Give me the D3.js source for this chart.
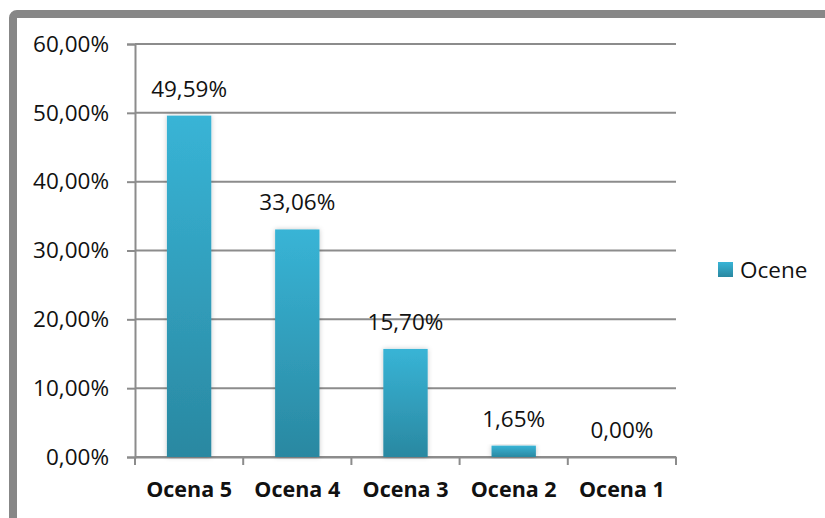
<!DOCTYPE html>
<html>
<head>
<meta charset="utf-8">
<script src="https://cdnjs.cloudflare.com/ajax/libs/d3/7.8.5/d3.min.js"></script>
<style>
  html, body { margin: 0; padding: 0; background: #fff; }
  svg { display: block; font-family: "Open Sans", "Noto Sans", sans-serif; }
</style>
</head>
<body>
<svg id="svg" width="825" height="518"></svg>
<script>
// chart data
const categories = ["Ocena 5", "Ocena 4", "Ocena 3", "Ocena 2", "Ocena 1"];
const values = [49.59, 33.06, 15.70, 1.65, 0.00];
const yTicks = [0, 10, 20, 30, 40, 50, 60];
const seriesName = "Ocene";

const fmt = v => v.toFixed(2).replace(".", ",") + "%";

const svg = d3.select("#svg");
const W = 825, H = 518;
const plot = { left: 135, right: 676, top: 44, bottom: 457 };

// outer frame (cut by the window on the right and bottom)
svg.append("rect")
  .attr("x", 13).attr("y", 14)
  .attr("width", W + 20).attr("height", H + 20)
  .attr("rx", 4)
  .attr("fill", "#fff")
  .attr("stroke", "#878787")
  .attr("stroke-width", 8);

const defs = svg.append("defs");
const grad = defs.append("linearGradient")
  .attr("id", "barGrad")
  .attr("x1", 0).attr("y1", 0).attr("x2", 0).attr("y2", 1);
grad.append("stop").attr("offset", "0%").attr("stop-color", "#38b4d6");
grad.append("stop").attr("offset", "100%").attr("stop-color", "#2a88a1");

const shadow = defs.append("filter").attr("id", "barShadow")
  .attr("x", "-30%").attr("y", "-10%").attr("width", "160%").attr("height", "120%");
shadow.append("feDropShadow")
  .attr("dx", 0).attr("dy", 0).attr("stdDeviation", 2.5)
  .attr("flood-color", "#000").attr("flood-opacity", 0.22);

const x = d3.scaleBand().domain(categories).range([plot.left, plot.right]).paddingInner(0).paddingOuter(0);
const y = d3.scaleLinear().domain([0, 60]).range([plot.bottom, plot.top]);

// gridlines
svg.append("g")
  .selectAll("line")
  .data(yTicks)
  .join("line")
  .attr("x1", plot.left).attr("x2", plot.right)
  .attr("y1", d => y(d)).attr("y2", d => y(d))
  .attr("stroke", "#8c8c8c")
  .attr("stroke-width", 2);

// y axis
const yAxis = svg.append("g")
  .attr("transform", `translate(${plot.left},0)`)
  .call(d3.axisLeft(y).tickValues(yTicks).tickFormat(fmt).tickSize(8).tickPadding(18));
yAxis.select(".domain").attr("stroke", "#8c8c8c").attr("stroke-width", 2);
yAxis.selectAll(".tick line").attr("stroke", "#8c8c8c").attr("stroke-width", 2);
yAxis.selectAll(".tick text")
  .attr("font-size", 22.5).attr("fill", "#111").attr("font-family", "Open Sans, sans-serif");

// x axis
const xAxis = svg.append("g")
  .attr("transform", `translate(0,${plot.bottom})`)
  .call(d3.axisBottom(x).tickSize(0).tickPadding(25));
xAxis.select(".domain").attr("stroke", "#8c8c8c").attr("stroke-width", 2);
xAxis.selectAll(".tick text")
  .attr("font-size", 21.5).attr("font-weight", "bold").attr("fill", "#111")
  .attr("font-family", "Open Sans, sans-serif");

// category boundary ticks
const bounds = categories.map(c => x(c)).concat([plot.right]);
svg.append("g")
  .selectAll("line")
  .data(bounds)
  .join("line")
  .attr("x1", d => d).attr("x2", d => d)
  .attr("y1", plot.bottom).attr("y2", plot.bottom + 8)
  .attr("stroke", "#8c8c8c")
  .attr("stroke-width", 2);

// bars
const barW = x.bandwidth() * 0.41;
svg.append("g")
  .selectAll("rect")
  .data(values)
  .join("rect")
  .attr("x", (d, i) => x(categories[i]) + x.bandwidth() / 2 - barW / 2)
  .attr("y", d => y(d))
  .attr("width", barW)
  .attr("height", d => y(0) - y(d))
  .attr("fill", "url(#barGrad)")
  .attr("filter", "url(#barShadow)");

// data labels
svg.append("g")
  .selectAll("text")
  .data(values)
  .join("text")
  .attr("x", (d, i) => x(categories[i]) + x.bandwidth() / 2)
  .attr("y", d => y(d) - 19)
  .attr("text-anchor", "middle")
  .attr("font-size", 22.5)
  .attr("fill", "#111")
  .text(fmt);

// legend
const legend = svg.append("g").attr("transform", "translate(718,262)");
legend.append("rect").attr("width", 15).attr("height", 15).attr("fill", "url(#barGrad)");
legend.append("text")
  .attr("x", 22).attr("y", 15.5)
  .attr("font-size", 22.5).attr("fill", "#111")
  .text(seriesName);
</script>
</body>
</html>
